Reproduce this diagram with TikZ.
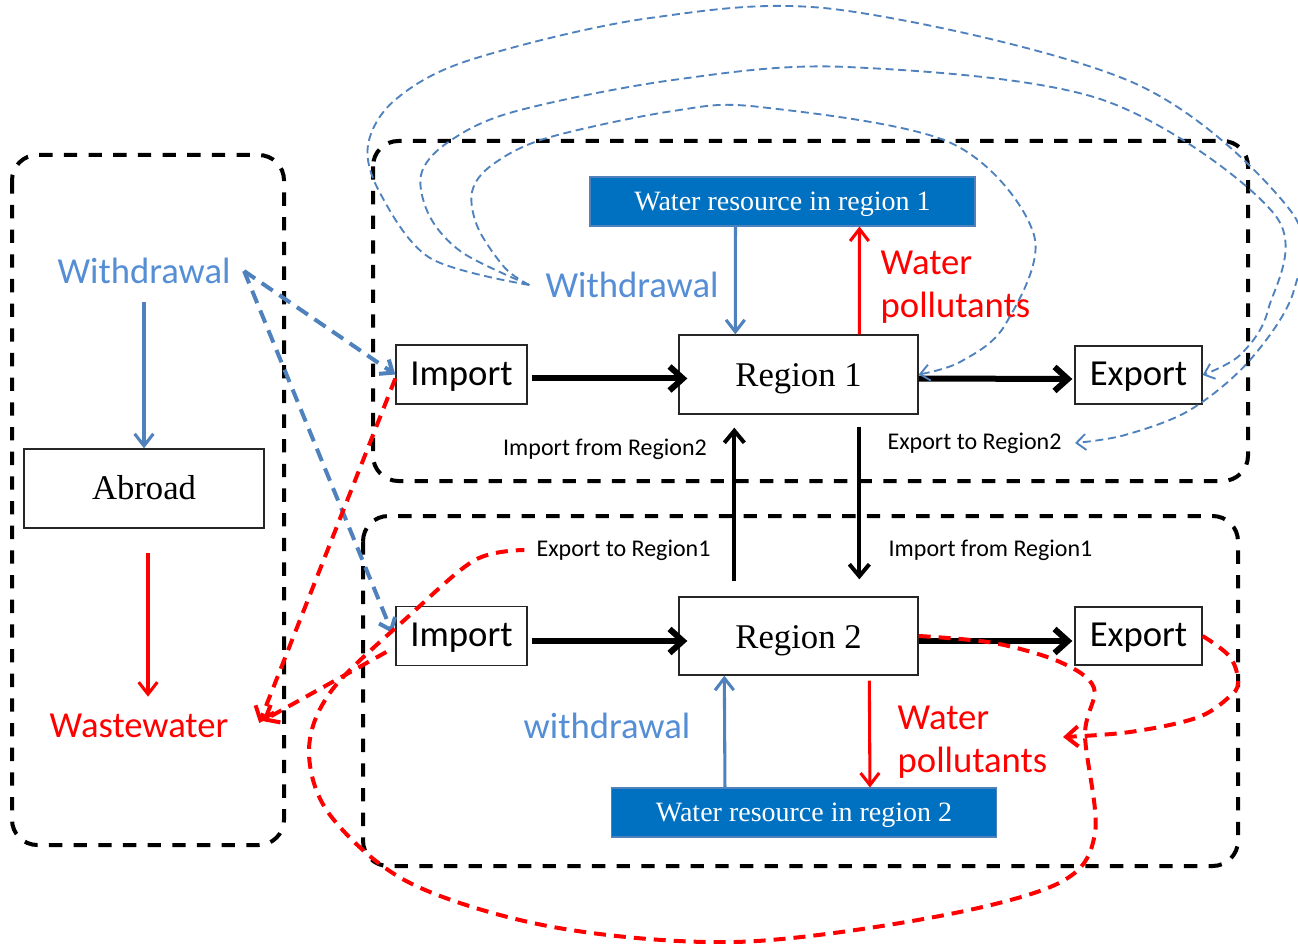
\documentclass[tikz,border=0pt]{standalone}
\usepackage{fontspec}
\setmainfont{Liberation Serif}
\newfontfamily\calib{Carlito}
\usetikzlibrary{arrows.meta,calc}
\definecolor{wblue}{HTML}{558ED5}
\definecolor{lblue}{HTML}{4F81BD}
\definecolor{boxblue}{HTML}{0070C0}
\definecolor{wred}{HTML}{FF0000}
\begin{document}
\begin{tikzpicture}[x=0.75pt,y=-0.75pt,
  frame/.style={draw=black,line width=3pt,dash pattern=on 10pt off 8.5pt,rounded corners=19pt},
  plainbox/.style={draw=black!85,line width=1pt,fill=white,inner sep=0pt,text depth=0pt},
  serifbig/.style={font=\fontsize{26}{30}\selectfont,text height=18pt},
  calbox/.style={font=\calib\fontsize{27.5}{30}\selectfont,text height=16pt},
  calbig/.style={font=\calib\fontsize{27.5}{30}\selectfont},
  small/.style={font=\calib\fontsize{18}{20}\selectfont,text=black},
  wrbox/.style={fill=boxblue,draw=lblue,line width=0.8pt,text=white,inner sep=0pt,
    font=\fontsize{21}{24}\selectfont,minimum width=288.75pt,minimum height=36.75pt,
    text height=12.8pt,text depth=0pt},
  btext/.style={calbig,text=wblue},
  rtext/.style={font=\calib\fontsize{27.5}{32}\selectfont,text=wred,align=left},
  blackarr/.style={draw=black,line width=4.5pt,-{Straight Barb[length=10pt,width=18pt]}},
  blackvarr/.style={draw=black,line width=3pt,-{Straight Barb[length=9pt,width=15pt]}},
  bluearr/.style={draw=lblue,line width=2.3pt,-{Straight Barb[length=9pt,width=14pt]}},
  redarr/.style={draw=wred,line width=2.3pt,-{Straight Barb[length=9pt,width=14pt]}},
  bloop/.style={draw=lblue,line width=1.4pt,dash pattern=on 6pt off 3.5pt,-{Straight Barb[length=7pt,width=12pt]}},
  bthick/.style={draw=lblue,line width=3pt,dash pattern=on 10pt off 6pt,-{Straight Barb[length=8pt,width=13pt]}},
  rthick/.style={draw=wred,line width=3pt,dash pattern=on 9pt off 6pt},
  rthickarr/.style={rthick,-{Straight Barb[length=9pt,width=15pt]}}
]
\useasboundingbox (0,0) rectangle (1298,944);

% frames
\draw[frame] (12,155) rectangle (284,845);
\draw[frame] (373,141) rectangle (1248,481);
\draw[frame] (363,516) rectangle (1238,866);

% nodes
\node[btext,inner xsep=10pt] (wdL) at (144,271) {Withdrawal};
\node[plainbox,serifbig,minimum width=180pt,minimum height=59.25pt,text height=17.2pt] (abroad) at (144,488.5) {Abroad};
\node[calbig,text=wred,inner xsep=23pt] (wwater) at (139,726) {Wastewater};

\node[plainbox,calbox,minimum width=98.25pt,minimum height=44.25pt] (imp1) at (461.5,374.5) {Import};
\node[plainbox,serifbig,minimum width=179.25pt,minimum height=59.25pt] (reg1) at (798.5,374.5) {Region 1};
\node[plainbox,calbox,minimum width=95.25pt,minimum height=43.5pt] (exp1) at (1138.5,375) {Export};
\node[wrbox] (wr1) at (782.5,201.5) {Water resource in region 1};
\node[btext,inner xsep=12pt] (wd1) at (632,285) {Withdrawal};
\node[rtext,anchor=west] (wp1) at (876,287) {Water\\pollutants};

\node[plainbox,calbox,minimum width=98.25pt,minimum height=44.25pt] (imp2) at (461.5,636) {Import};
\node[plainbox,serifbig,minimum width=179.25pt,minimum height=58.5pt] (reg2) at (798.5,636) {Region 2};
\node[plainbox,calbox,minimum width=95.25pt,minimum height=43.5pt] (exp2) at (1138.5,636) {Export};
\node[wrbox] (wr2) at (804,812.5) {Water resource in region 2};
\node[btext] (wd2) at (607,726) {withdrawal};
\node[rtext,anchor=west] (wp2) at (893,742) {Water\\pollutants};

\node[small] (lir2) at (605,449) {Import from Region2};
\node[small,inner xsep=10pt] (ler2) at (974.5,443) {Export to Region2};
\node[small,inner xsep=9pt] (ler1) at (623.5,550) {Export to Region1};
\node[small] (lir1) at (990.5,550) {Import from Region1};

\coordinate (ptip) at (1063,737);

% black flows
\draw[blackarr] ($(imp1.east)+(4,4)$) -- ($(reg1.west)+(9,4)$);
\draw[blackarr] ($(reg1.east)+(0,4)$) -- ($(exp1.west)+(-2,4)$);
\draw[blackarr] ($(imp2.east)+(4,5)$) -- ($(reg2.west)+(9,5)$);
\draw[blackarr] ($(reg2.east)+(0,5)$) -- ($(exp2.west)+(-2,5)$);
\draw[blackvarr] ($(reg2.north west)+(56,-15)$) -- ($(reg1.south west)+(56,13)$);
\draw[blackvarr] ($(reg1.south west)+(181,12)$) -- ($(reg2.north west)+(181,-17)$);

% solid blue / red
\draw[bluearr] ($(wr1.south west)+(146,0)$) -- ($(reg1.north west)+(57,0)$);
\draw[redarr] ($(reg1.north west)+(181,0)$) -- ($(wr1.south west)+(270,0)$);
\draw[bluearr] ($(wr2.north west)+(114,0)$) -- ($(reg2.south west)+(46,0)$);
\draw[redarr] ($(reg2.south west)+(191,5)$) -- ($(wr2.north west)+(259,0)$);
\draw[bluearr] ($(abroad.north)+(0,-146)$) -- (abroad.north);
\draw[redarr] ($(abroad.south)+(4,24)$) -- ($(abroad.south)+(4,168)$);

% thick dashed blue from left withdrawal
\draw[bthick] (wdL.east) -- (imp1.west);
\draw[bthick] (wdL.east) -- ($(imp2.west)+(-3,-3)$);

% red dashed to wastewater
\draw[rthickarr] ($(imp1.west)+(0,4)$) -- ($(wwater.east)+(0,-3)$);
\draw[rthickarr] ($(imp2.west)+(-9,16)$) -- ($(wwater.east)+(3,-5)$);

% blue loops
\draw[bloop] plot[smooth,tension=0.55] coordinates {(wd1.west) (505,268) (478,228) (472,192) (492,165) (547,138) (673,111) (760,107) (951,143) (1034,235) (1005,325) (960,362) (reg1.east)};
\draw[bloop] plot[smooth,tension=0.55] coordinates {(wd1.west) (463,253) (430,217) (421,175) (447,143) (513,112) (673,80) (847,67) (1103,100) (1275,215) (1268,310) (1240,355) (exp1.east)};
\draw[bloop] plot[smooth,tension=0.55] coordinates {(wd1.west) (430,258) (380,193) (368,145) (395,100) (470,60) (650,18) (841,10) (1134,83) (1290,210) (1294,290) (1250,360) (1190,410) (1125,435) (ler2.east)};

% red loops
\draw[rthick] plot[smooth,tension=0.55] coordinates {(reg2.east) (994,643) (1060,662) (1094,688) (1085,735) (1095,833) (1059,883) (929,918) (735,942) (553,927) (410,883) (330,815) (309,750) (332,690) (410,615) (475,560) (ler1.west)};
\draw[rthickarr] plot[smooth,tension=0.6] coordinates {(exp2.east) (1230,657) (1238,683) (1228,698) (1196,718) (1130,732) (ptip)};
\end{tikzpicture}
\end{document}
